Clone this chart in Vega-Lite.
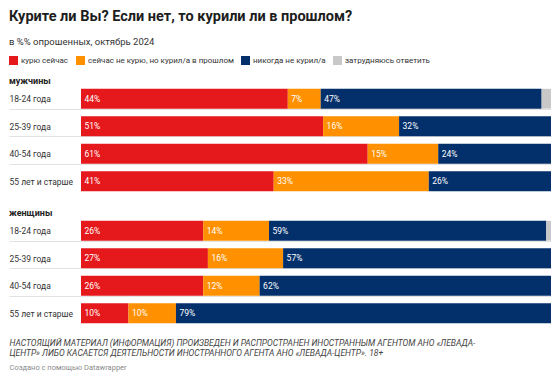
{
  "$schema": "https://vega.github.io/schema/vega-lite/v6.json",
  "padding": {"left": 8, "top": 9, "right": 8, "bottom": 2},
  "background": "white",
  "config": {
    "font": "Roboto",
    "view": {"stroke": null},
    "legend": {
      "orient": "none",
      "legendX": -72,
      "legendY": -29,
      "direction": "horizontal",
      "title": null,
      "symbolType": "square",
      "symbolSize": 81,
      "symbolStrokeWidth": 0,
      "labelFontSize": 8,
      "labelColor": "#333333",
      "labelLimit": 0,
      "columnPadding": 7,
      "labelOffset": 3
    }
  },
  "title": {
    "text": "Курите ли Вы? Если нет, то курили ли в прошлом?",
    "subtitle": "в %% опрошенных, октябрь 2024",
    "anchor": "start",
    "frame": "group",
    "dx": -72,
    "fontSize": 14.5,
    "fontWeight": "bold",
    "color": "#1d1d1d",
    "subtitleFontSize": 9.5,
    "subtitleColor": "#333333",
    "subtitlePadding": 12,
    "offset": 9
  },
  "spacing": 6,
  "datasets": {
    "survey": [
      {"sex": "мужчины", "age": "18-24 года", "cat": "курю сейчас", "order": 1, "value": 44},
      {"sex": "мужчины", "age": "18-24 года", "cat": "сейчас не курю, но курил/а в прошлом", "order": 2, "value": 7},
      {"sex": "мужчины", "age": "18-24 года", "cat": "никогда не курил/а", "order": 3, "value": 47},
      {"sex": "мужчины", "age": "18-24 года", "cat": "затрудняюсь ответить", "order": 4, "value": 2},
      {"sex": "мужчины", "age": "25-39 года", "cat": "курю сейчас", "order": 1, "value": 51},
      {"sex": "мужчины", "age": "25-39 года", "cat": "сейчас не курю, но курил/а в прошлом", "order": 2, "value": 16},
      {"sex": "мужчины", "age": "25-39 года", "cat": "никогда не курил/а", "order": 3, "value": 32},
      {"sex": "мужчины", "age": "40-54 года", "cat": "курю сейчас", "order": 1, "value": 61},
      {"sex": "мужчины", "age": "40-54 года", "cat": "сейчас не курю, но курил/а в прошлом", "order": 2, "value": 15},
      {"sex": "мужчины", "age": "40-54 года", "cat": "никогда не курил/а", "order": 3, "value": 24},
      {"sex": "мужчины", "age": "55 лет и старше", "cat": "курю сейчас", "order": 1, "value": 41},
      {"sex": "мужчины", "age": "55 лет и старше", "cat": "сейчас не курю, но курил/а в прошлом", "order": 2, "value": 33},
      {"sex": "мужчины", "age": "55 лет и старше", "cat": "никогда не курил/а", "order": 3, "value": 26},
      {"sex": "женщины", "age": "18-24 года", "cat": "курю сейчас", "order": 1, "value": 26},
      {"sex": "женщины", "age": "18-24 года", "cat": "сейчас не курю, но курил/а в прошлом", "order": 2, "value": 14},
      {"sex": "женщины", "age": "18-24 года", "cat": "никогда не курил/а", "order": 3, "value": 59},
      {"sex": "женщины", "age": "18-24 года", "cat": "затрудняюсь ответить", "order": 4, "value": 1},
      {"sex": "женщины", "age": "25-39 года", "cat": "курю сейчас", "order": 1, "value": 27},
      {"sex": "женщины", "age": "25-39 года", "cat": "сейчас не курю, но курил/а в прошлом", "order": 2, "value": 16},
      {"sex": "женщины", "age": "25-39 года", "cat": "никогда не курил/а", "order": 3, "value": 57},
      {"sex": "женщины", "age": "40-54 года", "cat": "курю сейчас", "order": 1, "value": 26},
      {"sex": "женщины", "age": "40-54 года", "cat": "сейчас не курю, но курил/а в прошлом", "order": 2, "value": 12},
      {"sex": "женщины", "age": "40-54 года", "cat": "никогда не курил/а", "order": 3, "value": 62},
      {"sex": "женщины", "age": "55 лет и старше", "cat": "курю сейчас", "order": 1, "value": 10},
      {"sex": "женщины", "age": "55 лет и старше", "cat": "сейчас не курю, но курил/а в прошлом", "order": 2, "value": 10},
      {"sex": "женщины", "age": "55 лет и старше", "cat": "никогда не курил/а", "order": 3, "value": 79}
    ],
    "footer": [
      {"k": 1, "t": "НАСТОЯЩИЙ МАТЕРИАЛ (ИНФОРМАЦИЯ) ПРОИЗВЕДЕН И РАСПРОСТРАНЕН ИНОСТРАННЫМ АГЕНТОМ АНО «ЛЕВАДА-"},
      {"k": 2, "t": "ЦЕНТР» ЛИБО КАСАЕТСЯ ДЕЯТЕЛЬНОСТИ ИНОСТРАННОГО АГЕНТА АНО «ЛЕВАДА-ЦЕНТР». 18+"},
      {"k": 3, "t": "Создано с помощью Datawrapper"}
    ]
  },
  "resolve": {"scale": {"color": "shared"}},
  "vconcat": [
    {
      "data": {"name": "survey"},
      "transform": [
        {"filter": "datum.sex === 'мужчины'"},
        {"stack": "value", "groupby": ["age"], "sort": [{"field": "order"}], "offset": "normalize", "as": ["x0", "x1"]},
        {"calculate": "datum.value + '%'", "as": "label"}
      ],
      "title": {"text": "мужчины", "anchor": "start", "frame": "group", "dx": -72, "fontSize": 9, "fontWeight": "bold", "color": "#222222", "offset": -5},
      "width": 470,
      "height": 118,
      "encoding": {
        "y": {
          "field": "age", "type": "nominal", "title": null,
          "sort": ["18-24 года", "25-39 года", "40-54 года", "55 лет и старше"],
          "scale": {"paddingInner": 0.28, "paddingOuter": 0.2855, "align": 0.245},
          "axis": {
            "domain": false, "ticks": true, "tickBand": "extent", "tickSize": 72, "tickColor": "#e2e2e2", "tickWidth": 1,
            "tickOpacity": {"condition": {"test": "datum.index < 0 || datum.index >= 1", "value": 0}, "value": 1},
            "grid": true, "gridColor": "#e2e2e2", "gridWidth": 1,
            "gridOpacity": {"condition": {"test": "datum.index < 0 || datum.index >= 1", "value": 0}, "value": 1},
            "labelAlign": "left", "labelPadding": 0, "labelFontSize": 8.5, "labelColor": "#333333", "labelLimit": 0
          }
        }
      },
      "layer": [
        {
          "mark": {"type": "bar"},
          "encoding": {
            "x": {"field": "x0", "type": "quantitative", "scale": {"domain": [0, 1]}, "axis": null},
            "x2": {"field": "x1"},
            "color": {
              "field": "cat", "type": "nominal",
              "scale": {"domain": ["курю сейчас", "сейчас не курю, но курил/а в прошлом", "никогда не курил/а", "затрудняюсь ответить"], "range": ["#e5181c", "#ff9000", "#03306b", "#c8c8c8"]}
            }
          }
        },
        {
          "transform": [{"filter": "datum.cat !== 'затрудняюсь ответить'"}],
          "mark": {"type": "text", "align": "left", "dx": 3.5, "color": "white", "fontSize": 8.5},
          "encoding": {
            "x": {"field": "x0", "type": "quantitative"},
            "text": {"field": "label"}
          }
        }
      ]
    },
    {
      "data": {"name": "survey"},
      "transform": [
        {"filter": "datum.sex === 'женщины'"},
        {"stack": "value", "groupby": ["age"], "sort": [{"field": "order"}], "offset": "normalize", "as": ["x0", "x1"]},
        {"calculate": "datum.value + '%'", "as": "label"}
      ],
      "title": {"text": "женщины", "anchor": "start", "frame": "group", "dx": -72, "fontSize": 9, "fontWeight": "bold", "color": "#222222", "offset": -5},
      "width": 470,
      "height": {"step": 27.5},
      "encoding": {
        "y": {
          "field": "age", "type": "nominal", "title": null,
          "sort": ["18-24 года", "25-39 года", "40-54 года", "55 лет и старше"],
          "scale": {"paddingInner": 0.28, "paddingOuter": 0.14},
          "axis": {
            "domain": false, "ticks": true, "tickBand": "extent", "tickSize": 72, "tickColor": "#e2e2e2", "tickWidth": 1,
            "tickOpacity": {"condition": {"test": "datum.index < 0 || datum.index >= 1", "value": 0}, "value": 1},
            "grid": true, "gridColor": "#e2e2e2", "gridWidth": 1,
            "gridOpacity": {"condition": {"test": "datum.index < 0 || datum.index >= 1", "value": 0}, "value": 1},
            "labelAlign": "left", "labelPadding": 0, "labelFontSize": 8.5, "labelColor": "#333333", "labelLimit": 0
          }
        }
      },
      "layer": [
        {
          "mark": {"type": "bar"},
          "encoding": {
            "x": {"field": "x0", "type": "quantitative", "scale": {"domain": [0, 1]}, "axis": null},
            "x2": {"field": "x1"},
            "color": {
              "field": "cat", "type": "nominal",
              "scale": {"domain": ["курю сейчас", "сейчас не курю, но курил/а в прошлом", "никогда не курил/а", "затрудняюсь ответить"], "range": ["#e5181c", "#ff9000", "#03306b", "#c8c8c8"]}
            }
          }
        },
        {
          "transform": [{"filter": "datum.cat !== 'затрудняюсь ответить'"}],
          "mark": {"type": "text", "align": "left", "dx": 3.5, "color": "white", "fontSize": 8.5},
          "encoding": {
            "x": {"field": "x0", "type": "quantitative"},
            "text": {"field": "label"}
          }
        }
      ]
    },
    {
      "data": {"name": "footer"},
      "width": 470,
      "height": {"step": 9},
      "mark": {"type": "text"},
      "encoding": {
        "y": {
          "field": "t", "type": "nominal", "title": null,
          "sort": {"field": "k"},
          "scale": {"type": "point", "padding": 1.17},
          "axis": {
            "domain": false, "ticks": true, "tickSize": 72, "tickOpacity": 0, "grid": false,
            "labelAlign": "left", "labelPadding": 0, "labelLimit": 0,
            "labelFontSize": {"condition": {"test": "indexof(datum.value, 'Datawrapper') >= 0", "value": 7.5}, "value": 8.5},
            "labelFontStyle": {"condition": {"test": "indexof(datum.value, 'Datawrapper') >= 0", "value": "normal"}, "value": "italic"},
            "labelColor": {"condition": {"test": "indexof(datum.value, 'Datawrapper') >= 0", "value": "#8a8a8a"}, "value": "#444444"},
            "labelOffset": {"condition": {"test": "indexof(datum.value, 'Datawrapper') >= 0", "value": 5}, "value": 0}
          }
        },
        "text": {"value": ""}
      }
    }
  ]
}
